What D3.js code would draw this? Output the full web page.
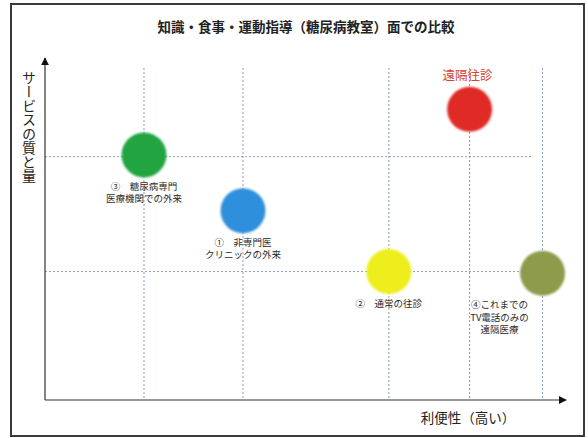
<!DOCTYPE html>
<html>
<head>
<meta charset="utf-8">
<script src="https://cdn.jsdelivr.net/npm/d3@7"></script>
<style>
  html, body { margin: 0; padding: 0; background: #fff; }
  svg { display: block; font-family: "Noto Sans CJK JP", "Noto Sans", sans-serif; }
</style>
</head>
<body>
<div id="chart"></div>
<script>
  // 概念図: 利便性 (x) とサービスの質と量 (y), 0-100 の相対値
  const gridX = [19, 38, 66, 81.5, 95.5];
  const gridY = [72, 38];

  const names = ['green', 'blue', 'red', 'yellow', 'olive'];
  const xValues = [19, 38, 81.5, 66, 95.5];
  const yValues = [72.5, 56, 86, 38, 37.5];
  const colors = ['#22a540', '#2f8fdc', '#df2a26', '#eeee1a', '#8d9b4c'];
  const labels = [
    ['③　糖尿病専門', '医療機関での外来'],
    ['①　非専門医', 'クリニックの外来'],
    ['遠隔往診'],
    ['②　通常の往診'],
    ['④これまでの', 'TV電話のみの', '遠隔医療']
  ];
  const labelAbove = [false, false, true, false, false];
  const labelShift = [0, 0, -2, 0, -43];

  const W = 588, H = 438;
  const x0 = 45, x1 = 566, y0 = 400, y1 = 58;

  const svg = d3.select('#chart').append('svg')
    .attr('width', W).attr('height', H);

  const defs = svg.append('defs');
  defs.append('filter').attr('id', 'soft')
    .append('feGaussianBlur').attr('stdDeviation', 0.9);
  defs.append('marker').attr('id', 'arrow')
    .attr('viewBox', '0 0 10 10').attr('refX', 9).attr('refY', 5)
    .attr('markerWidth', 8).attr('markerHeight', 8)
    .attr('markerUnits', 'userSpaceOnUse').attr('orient', 'auto')
    .append('path').attr('d', 'M0,0 L10,5 L0,10 Z').attr('fill', '#111');

  const x = d3.scaleLinear().domain([0, 100]).range([x0, x1]);
  const y = d3.scaleLinear().domain([0, 100]).range([y0, y1 + 4]);

  // 外枠
  svg.append('rect')
    .attr('x', 11).attr('y', 4).attr('width', 573).attr('height', 432)
    .attr('fill', 'none').attr('stroke', '#3a3a3a').attr('stroke-width', 2);

  // タイトル
  svg.append('text')
    .attr('x', 306).attr('y', 32)
    .attr('text-anchor', 'middle')
    .attr('font-size', 13.5).attr('font-weight', 'bold').attr('fill', '#222')
    .text('知識・食事・運動指導（糖尿病教室）面での比較');

  // グリッド
  const grid = svg.append('g')
    .attr('stroke', '#8a9fb6').attr('stroke-width', 1).attr('stroke-dasharray', '2,2');
  grid.selectAll('line.v').data(gridX).join('line')
    .attr('class', 'v')
    .attr('x1', (d) => x(d)).attr('x2', (d) => x(d))
    .attr('y1', 68).attr('y2', y0);
  grid.selectAll('line.h').data(gridY).join('line')
    .attr('class', 'h')
    .attr('x1', x0).attr('x2', 533)
    .attr('y1', (d) => y(d)).attr('y2', (d) => y(d));

  // 軸
  svg.append('line')
    .attr('x1', x0).attr('y1', y0).attr('x2', x0).attr('y2', y1)
    .attr('stroke', '#333').attr('stroke-width', 1.2).attr('marker-end', 'url(#arrow)');
  svg.append('line')
    .attr('x1', x0).attr('y1', y0).attr('x2', x1).attr('y2', y0)
    .attr('stroke', '#333').attr('stroke-width', 1.2).attr('marker-end', 'url(#arrow)');

  // 軸ラベル
  svg.append('text')
    .attr('x', 468).attr('y', 423)
    .attr('text-anchor', 'middle').attr('font-size', 13.5).attr('fill', '#222')
    .text('利便性（高い）');
  svg.append('text')
    .attr('transform', 'translate(29,71)')
    .attr('writing-mode', 'tb')
    .attr('font-size', 14).attr('fill', '#222')
    .text('サービスの質と量');

  // 点
  const pts = names.map((n, i) => ({
    name: n, x: xValues[i], y: yValues[i], color: colors[i],
    label: labels[i], above: labelAbove[i], dx: labelShift[i]
  }));

  svg.append('g').selectAll('circle').data(pts).join('circle')
    .attr('cx', (d) => x(d.x)).attr('cy', (d) => y(d.y))
    .attr('r', 22.5)
    .attr('fill', (d) => d.color)
    .attr('filter', 'url(#soft)');

  const lab = svg.append('g').selectAll('text').data(pts).join('text')
    .attr('text-anchor', 'middle')
    .attr('font-size', (d) => d.above ? 12.5 : 9.5)
    .attr('fill', (d) => d.above ? '#d8452a' : '#2a2a2a');
  lab.selectAll('tspan').data((d) => d.label.map((t, k) => ({ t, k, d }))).join('tspan')
    .attr('x', (e) => x(e.d.x) + e.d.dx)
    .attr('y', (e) => e.d.above ? y(e.d.y) - 29 : y(e.d.y) + 35 + e.k * 12.5)
    .text((e) => e.t);
</script>
</body>
</html>
